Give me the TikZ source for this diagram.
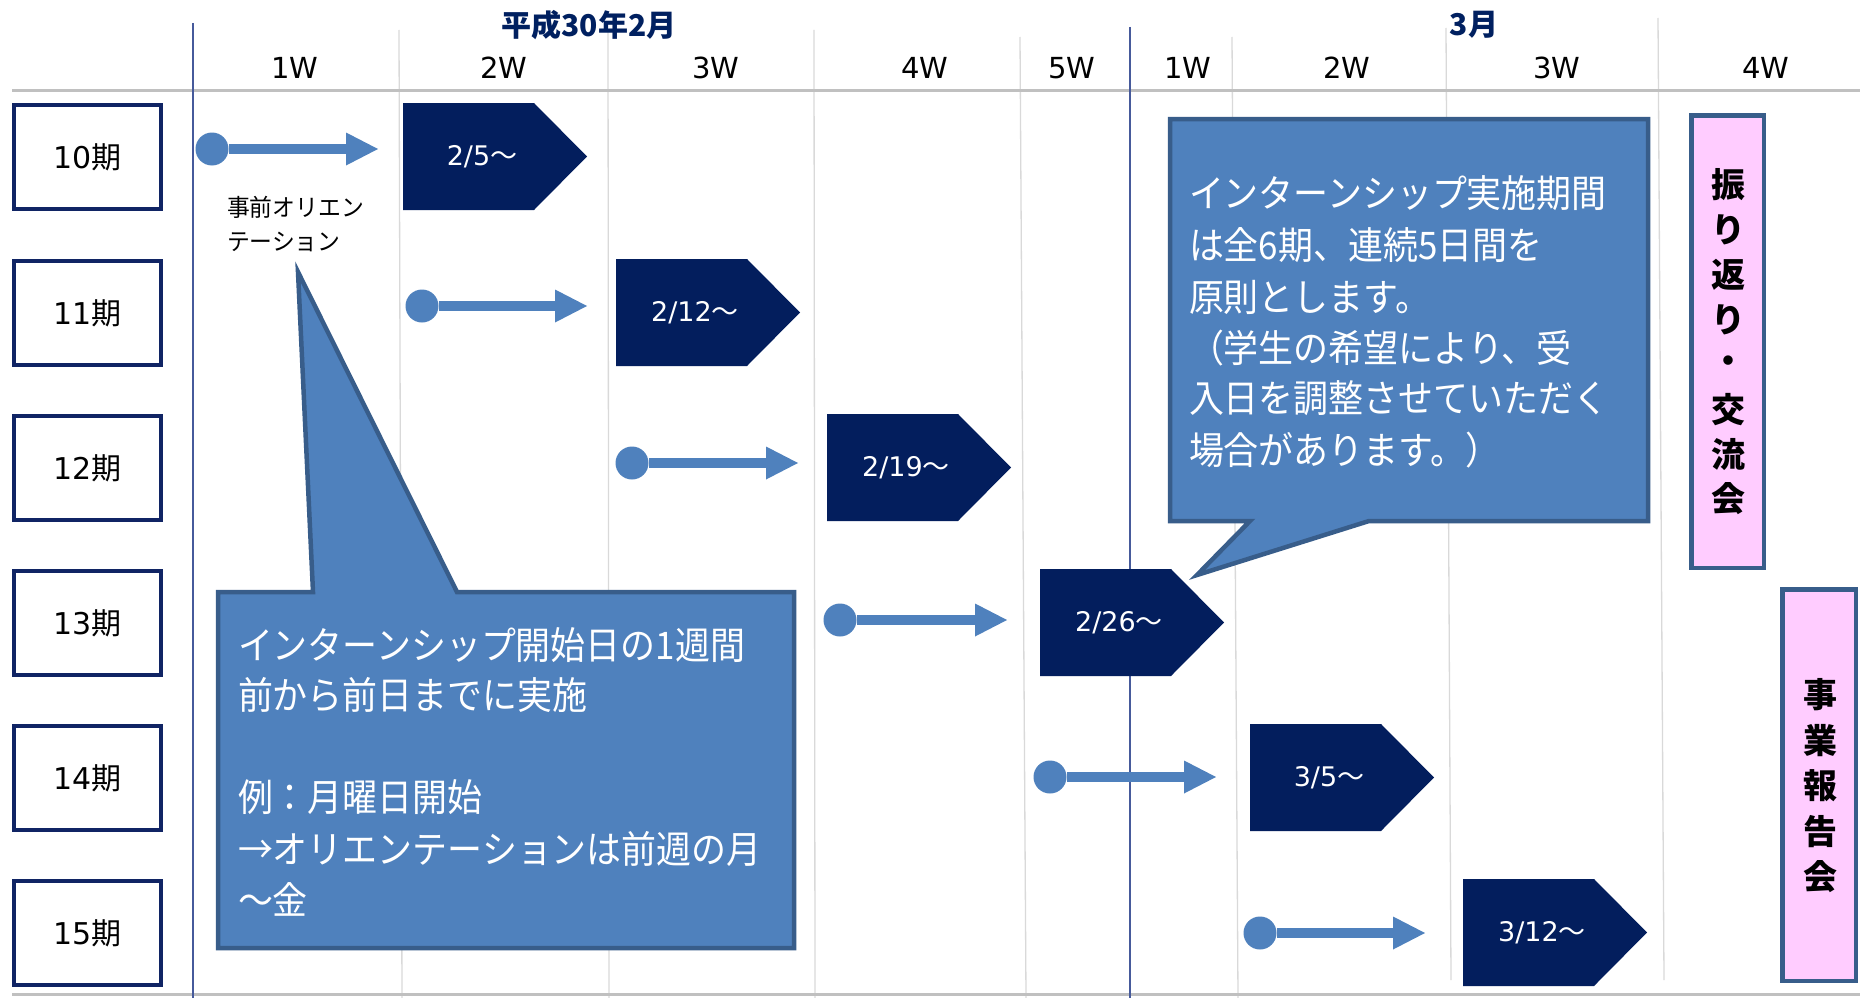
\documentclass[tikz,border=0pt]{standalone}
\usepackage{fontspec}
\setmainfont{DejaVu Sans}
\newfontfamily\cjk[FakeStretch=0.95]{Noto Sans CJK JP}
\newfontfamily\cjkc[FakeStretch=0.92]{Noto Sans CJK JP}
\newfontfamily\cjkn{Noto Sans CJK JP}
\usetikzlibrary{arrows.meta}
\definecolor{navy}{RGB}{3,30,93}
\definecolor{boxnavy}{RGB}{16,36,100}
\definecolor{hdrnavy}{RGB}{0,32,96}
\definecolor{steel}{RGB}{79,129,189}
\definecolor{steeldk}{RGB}{56,93,138}
\definecolor{pinkfill}{RGB}{255,204,255}
\definecolor{gridgray}{RGB}{217,217,217}
\definecolor{rulegray}{RGB}{192,192,192}
\definecolor{vline}{RGB}{70,90,155}
\newcommand\myfs[1]{\fontsize{#1}{#1}\selectfont}
\begin{document}
\begin{tikzpicture}[x=1pt,y=-1pt,
  grid/.style={draw=gridgray,line width=1.3pt},
  rulel/.style={draw=rulegray,line width=3pt},
  monthline/.style={draw=vline,line width=1.5pt},
  labelbox/.style={draw=boxnavy,line width=4pt,fill=white,inner sep=0pt,minimum width=147pt,minimum height=104pt,font=\myfs{30}},
  chev/.style={fill=navy},
  flow/.style={draw=steel,line width=10pt,{Circle[length=33pt,width=33pt,line width=0pt]}-{Triangle[length=32pt,width=33pt,line width=0pt]}},
  callout/.style={fill=steel,draw=steeldk,line width=4.5pt},
  pinkbox/.style={fill=pinkfill,draw=steeldk,line width=4.5pt,inner sep=0pt},
  txt/.style={inner sep=0pt,outer sep=0pt},
  wk/.style={txt,font=\myfs{29}},
  dte/.style={txt,text=white,font=\myfs{27}},
  cl/.style={txt,anchor=base west,text=white,font=\cjkc\myfs{38}},
  vt/.style={txt,font=\cjkn\bfseries\myfs{34}},
  hdr/.style={txt,text=hdrnavy,font=\cjkn\bfseries\myfs{30}},
]
\useasboundingbox (0,0) rectangle (1860,998);
\fill[white] (0,0) rectangle (1860,998);

% grid
\draw[grid] (399,30) -- (402,998);
\draw[grid] (608,30) -- (609,998);
\draw[grid] (814,30) -- (815,998);
\draw[grid] (1020,37) -- (1026,998);
\draw[grid] (1232,37) -- (1238,998);
\draw[grid] (1446,28) -- (1451,980);
\draw[grid] (1658,18) -- (1664,980);
\draw[rulel] (12,90) -- (1860,90);
\draw[rulel] (12,994) -- (1860,994);
\draw[monthline] (193,23) -- (193,998);
\draw[monthline] (1130,27) -- (1130,998);

% header
\node[hdr] (feb) at (589,25) {平成30年2月};
\node[hdr] (mar) at (1474,25) {3月};
\node[wk] (w1) at (295,68) {1W};
\node[wk] (w2) at (504,68) {2W};
\node[wk] (w3) at (716,68) {3W};
\node[wk] (w4) at (925,68) {4W};
\node[wk] (w5) at (1072,68) {5W};
\node[wk] (m1) at (1188,68) {1W};
\node[wk] (m2) at (1347,68) {2W};
\node[wk] (m3) at (1557,68) {3W};
\node[wk] (m4) at (1766,68) {4W};

% period labels
\node[labelbox] (p10) at (87.5,157) {10{\cjkn 期}};
\node[labelbox] (p11) at (87.5,313) {11{\cjkn 期}};
\node[labelbox] (p12) at (87.5,468) {12{\cjkn 期}};
\node[labelbox] (p13) at (87.5,623) {13{\cjkn 期}};
\node[labelbox] (p14) at (87.5,778) {14{\cjkn 期}};
\node[labelbox] (p15) at (87.5,933) {15{\cjkn 期}};

% orientation arrows
\coordinate (a1s) at (195.5,149); \coordinate (a1e) at (378,149);
\coordinate (a2s) at (405.5,306); \coordinate (a2e) at (587,306);
\coordinate (a3s) at (615.5,463); \coordinate (a3e) at (798,463);
\coordinate (a4s) at (823.5,620); \coordinate (a4e) at (1007,620);
\coordinate (a5s) at (1033.5,777); \coordinate (a5e) at (1216,777);
\coordinate (a6s) at (1243.5,933); \coordinate (a6e) at (1425,933);
\draw[flow] (a1s) -- (a1e);
\draw[flow] (a2s) -- (a2e);
\draw[flow] (a3s) -- (a3e);
\draw[flow] (a4s) -- (a4e);
\draw[flow] (a5s) -- (a5e);
\draw[flow] (a6s) -- (a6e);

% chevrons
\fill[chev] (403,103) -- (534,103) -- (587,156.5) -- (534,210) -- (403,210) -- cycle;
\fill[chev] (616,259) -- (747,259) -- (800,312.5) -- (747,366) -- (616,366) -- cycle;
\fill[chev] (827,414) -- (958,414) -- (1011,467.5) -- (958,521) -- (827,521) -- cycle;
\fill[chev] (1040,569) -- (1171,569) -- (1224,622.5) -- (1171,676) -- (1040,676) -- cycle;
\fill[chev] (1250,724) -- (1381,724) -- (1434,777.5) -- (1381,831) -- (1250,831) -- cycle;
\fill[chev] (1463,879) -- (1594,879) -- (1647,932.5) -- (1594,986) -- (1463,986) -- cycle;
\node[dte] (d1) at (482,157) {2/5{\cjkn ～}};
\node[dte] (d2) at (695,313) {2/12{\cjkn ～}};
\node[dte] (d3) at (906,468) {2/19{\cjkn ～}};
\node[dte] (d4) at (1119,623) {2/26{\cjkn ～}};
\node[dte] (d5) at (1329,778) {3/5{\cjkn ～}};
\node[dte] (d6) at (1542,933) {3/12{\cjkn ～}};

% small label
\node[txt,anchor=base west,font=\cjk\myfs{24}] (pre1) at (227,216) {事前オリエン};
\node[txt,anchor=base west,font=\cjk\myfs{24}] (pre2) at (227,250) {テーション};

% callout 1
\draw[callout] (218,592) -- (313,592) -- (298,272) -- (457,592) -- (794,592) -- (794,948) -- (218,948) -- cycle;
\node[cl] (c1a) at (238,659) {インターンシップ開始日の1週間};
\node[cl] (c1b) at (238,709) {前から前日までに実施};
\node[cl] (c1c) at (238,811) {例：月曜日開始};
\node[cl] (c1d) at (238,863) {→オリエンテーションは前週の月};
\node[cl] (c1e) at (238,914) {～金};

% callout 2
\draw[callout] (1170,119) -- (1648,119) -- (1648,521) -- (1369,521) -- (1197,575) -- (1250,521) -- (1170,521) -- cycle;
\node[cl] (c2a) at (1189,207) {インターンシップ実施期間};
\node[cl] (c2b) at (1189,259) {は全6期、連続5日間を};
\node[cl] (c2c) at (1189,311) {原則とします。};
\node[cl] (c2d) at (1189,362) {（学生の希望により、受};
\node[cl] (c2e) at (1189,412) {入日を調整させていただく};
\node[cl] (c2f) at (1189,464) {場合があります。）};

% pink boxes
\node[pinkbox,minimum width=72.5pt,minimum height=452.5pt] (furi) at (1727.5,341.5) {};
\node[pinkbox,minimum width=73.5pt,minimum height=391.5pt] (hok) at (1819,785) {};
\foreach \ch [count=\k from 0] in {振,り,返,り,・,交,流,会}
  \node[vt] (fv\k) at (1728,{185+\k*44.86}) {\ch};
\foreach \ch [count=\k from 0] in {事,業,報,告,会}
  \node[vt] (hv\k) at (1820,{695+\k*45.5}) {\ch};
\end{tikzpicture}
\end{document}
